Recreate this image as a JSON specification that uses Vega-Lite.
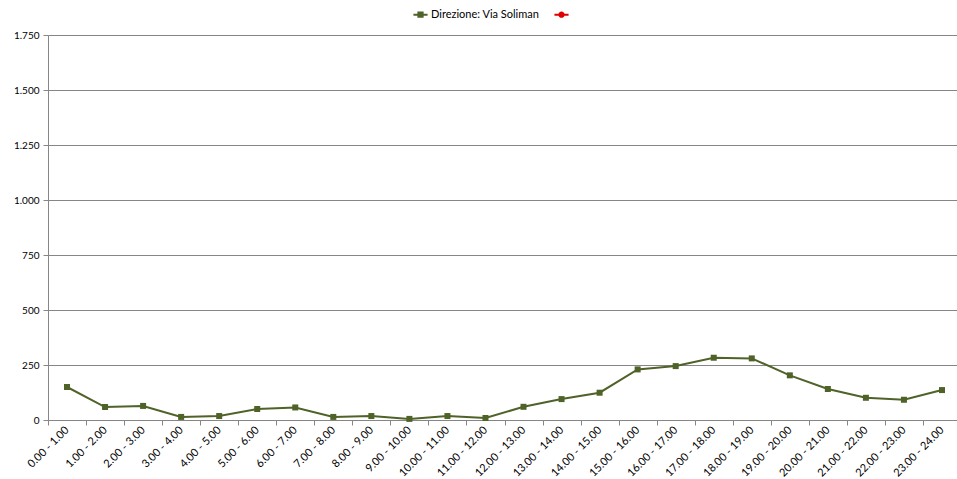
{
  "$schema": "https://vega.github.io/schema/vega-lite/v6.json",
  "width": 913,
  "height": 385,
  "autosize": {"type": "none"},
  "padding": {"left": 48, "top": 35, "right": 0, "bottom": 59},
  "background": "white",
  "config": {
    "font": "Lato",
    "view": {"stroke": null},
    "axis": {"labelFont": "Lato", "labelFontSize": 10, "labelColor": "#000000", "domainColor": "#868686", "tickColor": "#868686", "gridColor": "#868686", "title": null}
  },
  "data": {
    "values": [
      {"fascia": "0.00 - 1.00", "serie": "Direzione: Via Soliman", "valore": 150},
      {"fascia": "1.00 - 2.00", "serie": "Direzione: Via Soliman", "valore": 59},
      {"fascia": "2.00 - 3.00", "serie": "Direzione: Via Soliman", "valore": 64},
      {"fascia": "3.00 - 4.00", "serie": "Direzione: Via Soliman", "valore": 14},
      {"fascia": "4.00 - 5.00", "serie": "Direzione: Via Soliman", "valore": 18},
      {"fascia": "5.00 - 6.00", "serie": "Direzione: Via Soliman", "valore": 50},
      {"fascia": "6.00 - 7.00", "serie": "Direzione: Via Soliman", "valore": 57},
      {"fascia": "7.00 - 8.00", "serie": "Direzione: Via Soliman", "valore": 14},
      {"fascia": "8.00 - 9.00", "serie": "Direzione: Via Soliman", "valore": 18},
      {"fascia": "9.00 - 10.00", "serie": "Direzione: Via Soliman", "valore": 5},
      {"fascia": "10.00 - 11.00", "serie": "Direzione: Via Soliman", "valore": 18},
      {"fascia": "11.00 - 12.00", "serie": "Direzione: Via Soliman", "valore": 9},
      {"fascia": "12.00 - 13.00", "serie": "Direzione: Via Soliman", "valore": 60},
      {"fascia": "13.00 - 14.00", "serie": "Direzione: Via Soliman", "valore": 95},
      {"fascia": "14.00 - 15.00", "serie": "Direzione: Via Soliman", "valore": 124},
      {"fascia": "15.00 - 16.00", "serie": "Direzione: Via Soliman", "valore": 230},
      {"fascia": "16.00 - 17.00", "serie": "Direzione: Via Soliman", "valore": 245},
      {"fascia": "17.00 - 18.00", "serie": "Direzione: Via Soliman", "valore": 283},
      {"fascia": "18.00 - 19.00", "serie": "Direzione: Via Soliman", "valore": 280},
      {"fascia": "19.00 - 20.00", "serie": "Direzione: Via Soliman", "valore": 203},
      {"fascia": "20.00 - 21.00", "serie": "Direzione: Via Soliman", "valore": 141},
      {"fascia": "21.00 - 22.00", "serie": "Direzione: Via Soliman", "valore": 101},
      {"fascia": "22.00 - 23.00", "serie": "Direzione: Via Soliman", "valore": 92},
      {"fascia": "23.00 - 24.00", "serie": "Direzione: Via Soliman", "valore": 136}
    ]
  },
  "encoding": {
    "x": {
      "field": "fascia", "type": "ordinal", "sort": null,
      "scale": {"paddingInner": 0, "paddingOuter": 0},
      "axis": {"labelAngle": -45, "labelAlign": "right", "labelBaseline": "middle", "labelFontSize": 11, "tickBand": "extent", "tickSize": 5, "labelPadding": 3, "grid": false}
    },
    "y": {
      "field": "valore", "type": "quantitative",
      "scale": {"domain": [0, 1750], "nice": false},
      "axis": {"values": [0, 250, 500, 750, 1000, 1250, 1500, 1750], "tickSize": 5, "labelPadding": 4, "grid": true, "labelExpr": "replace(format(datum.value, ','), ',', '.')"}
    },
    "color": {
      "field": "serie", "type": "nominal",
      "scale": {"domain": ["Direzione: Via Soliman", " "], "range": ["#4f6228", "#e00000"]},
      "legend": {
        "title": null, "orient": "none", "direction": "horizontal", "legendX": 364, "legendY": -29,
        "labelFont": "Lato", "labelFontSize": 11, "labelColor": "#000000", "columnPadding": 10, "symbolSize": 200, "labelOffset": 2,
        "encode": {
          "symbols": {
            "update": {
              "shape": {"signal": "datum.value === ' ' ? 'M-1,0H1M0.3,0A0.3,0.3 0 1,1 -0.3,0A0.3,0.3 0 1,1 0.3,0Z' : 'M-1,0H1M-0.3,-0.3H0.3V0.3H-0.3Z'"},
              "fill": {"scale": "color", "field": "value"},
              "stroke": {"scale": "color", "field": "value"},
              "strokeWidth": {"value": 2}
            }
          }
        }
      }
    }
  },
  "layer": [
    {"mark": {"type": "line", "strokeWidth": 2}},
    {"mark": {"type": "point", "shape": "square", "filled": true, "size": 36, "opacity": 1}}
  ]
}
